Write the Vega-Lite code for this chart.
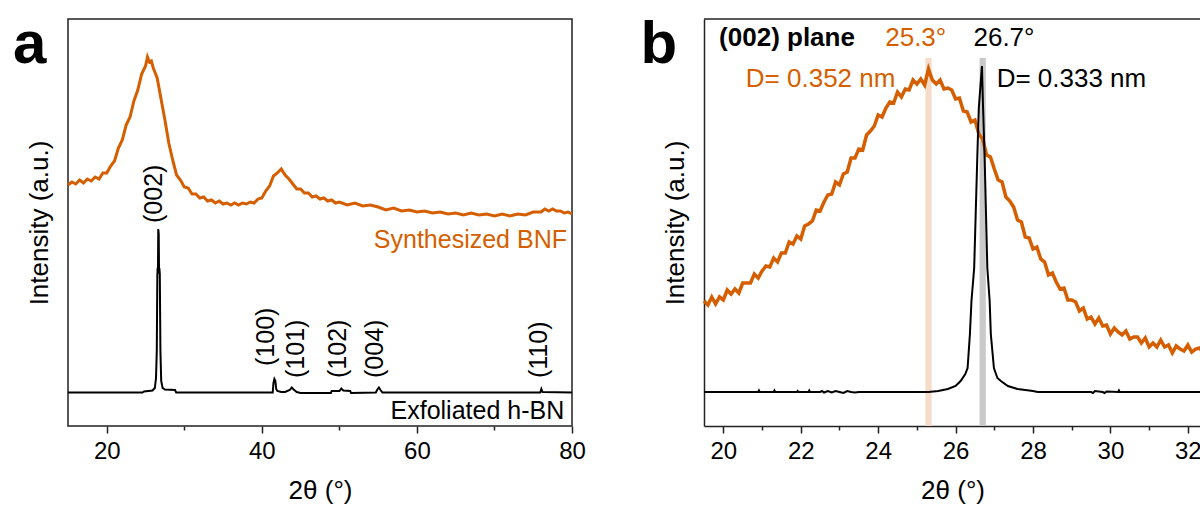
{
  "$schema": "https://vega.github.io/schema/vega-lite/v6.json",
  "padding": {"left": 12, "top": 14, "right": 0, "bottom": 0},
  "bounds": "flush",
  "spacing": 132,
  "data": {"values": [{}]},
  "config": {
    "font": "Liberation Sans",
    "view": {"stroke": null},
    "axis": {"labelFont": "Liberation Sans", "titleFont": "Liberation Sans", "labelColor": "#000", "titleColor": "#000", "labelFontSize": 24, "titleFontSize": 26, "titleFontWeight": "normal", "domainColor": "#222", "domainWidth": 1.5, "tickColor": "#222", "tickWidth": 1.5, "grid": false},
    "text": {"font": "Liberation Sans"}
  },
  "datasets": {
    "bnfA": [
      {"t":15,"i":241},{"t":15.5,"i":244},{"t":16,"i":242},{"t":16.5,"i":246},{"t":17,"i":243},{"t":17.5,"i":247},{"t":18,"i":245},{"t":18.5,"i":249},{"t":19,"i":247},{"t":19.5,"i":253},{"t":20,"i":253},{"t":20.5,"i":260},{"t":21,"i":265},{"t":21.5,"i":278},{"t":22,"i":286},{"t":22.5,"i":301},{"t":23,"i":309},{"t":23.5,"i":325},{"t":24,"i":336},{"t":24.5,"i":352},{"t":25,"i":360},{"t":25.25,"i":369},{"t":25.5,"i":364},{"t":25.75,"i":365},{"t":26,"i":358},{"t":26.5,"i":348},{"t":27,"i":327},{"t":27.5,"i":306},{"t":28,"i":283},{"t":28.5,"i":266},{"t":29,"i":251},{"t":29.5,"i":246},{"t":30,"i":239},{"t":30.5,"i":238},{"t":31,"i":232},{"t":31.5,"i":232},{"t":32,"i":228},{"t":32.5,"i":229},{"t":33,"i":225},{"t":33.5,"i":226},{"t":34,"i":223},{"t":34.5,"i":225},{"t":35,"i":222},{"t":35.5,"i":223},{"t":36,"i":221},{"t":36.5,"i":223},{"t":37,"i":221},{"t":37.5,"i":223},{"t":38,"i":222},{"t":38.5,"i":224},{"t":39,"i":223},{"t":39.5,"i":227},{"t":40,"i":228},{"t":40.5,"i":235},{"t":41,"i":240},{"t":41.5,"i":250},{"t":42,"i":253},{"t":42.5,"i":257},{"t":43,"i":251},{"t":43.5,"i":247},{"t":44,"i":242},{"t":44.5,"i":237},{"t":45,"i":237},{"t":45.5,"i":233},{"t":46,"i":233},{"t":46.5,"i":229},{"t":47,"i":230},{"t":47.5,"i":227},{"t":48,"i":228},{"t":48.5,"i":225},{"t":49,"i":226},{"t":49.5,"i":223},{"t":50,"i":224},{"t":51,"i":221},{"t":52,"i":223},{"t":53,"i":220},{"t":54,"i":221},{"t":55,"i":219},{"t":56,"i":216},{"t":57,"i":218},{"t":58,"i":215},{"t":59,"i":216},{"t":60,"i":214},{"t":61,"i":215},{"t":62,"i":213},{"t":63,"i":214},{"t":64,"i":212},{"t":65,"i":213},{"t":66,"i":211},{"t":67,"i":213},{"t":68,"i":211},{"t":69,"i":212},{"t":70,"i":210},{"t":71,"i":212},{"t":72,"i":210},{"t":73,"i":212},{"t":74,"i":211},{"t":75,"i":214},{"t":76,"i":214},{"t":76.5,"i":217},{"t":77,"i":215},{"t":77.5,"i":217},{"t":78,"i":215},{"t":78.5,"i":215},{"t":79,"i":213},{"t":79.5,"i":214},{"t":80,"i":212}
    ],
    "hbnA": [
      {"t":15,"i":33.5},{"t":24.6,"i":33.5},{"t":24.8,"i":34.5},{"t":25.9,"i":35.5},{"t":26.2,"i":38},{"t":26.35,"i":48},{"t":26.45,"i":75},{"t":26.52,"i":150},{"t":26.56,"i":158},{"t":26.6,"i":152},{"t":26.64,"i":197},{"t":26.7,"i":192},{"t":26.74,"i":155},{"t":26.78,"i":158},{"t":26.84,"i":152},{"t":26.92,"i":75},{"t":27.02,"i":45},{"t":27.2,"i":38},{"t":27.5,"i":36.5},{"t":28.8,"i":36},{"t":28.95,"i":33.5},{"t":41.4,"i":33.5},{"t":41.5,"i":43},{"t":41.62,"i":47},{"t":41.75,"i":45},{"t":41.85,"i":37},{"t":42,"i":35},{"t":42.5,"i":34},{"t":43,"i":34},{"t":43.6,"i":36},{"t":43.85,"i":38.5},{"t":44.1,"i":36.5},{"t":44.5,"i":34},{"t":45,"i":33},{"t":48.9,"i":33},{"t":49,"i":35},{"t":50,"i":35},{"t":50.25,"i":37.5},{"t":50.5,"i":35.5},{"t":51.4,"i":35},{"t":51.5,"i":33},{"t":54.7,"i":33.5},{"t":54.9,"i":36.5},{"t":55.1,"i":38.5},{"t":55.3,"i":36},{"t":55.55,"i":33.5},{"t":75.9,"i":33.5},{"t":76.05,"i":37},{"t":76.2,"i":34},{"t":80,"i":33.5}
    ],
    "bnfB": [
      {"t":19.5,"i":125},{"t":19.6,"i":121},{"t":19.7,"i":129},{"t":19.8,"i":122},{"t":19.9,"i":129},{"t":20,"i":126},{"t":20.1,"i":136},{"t":20.2,"i":132},{"t":20.3,"i":137},{"t":20.4,"i":133},{"t":20.5,"i":143},{"t":20.6,"i":143},{"t":20.7,"i":143},{"t":20.8,"i":152},{"t":20.9,"i":148},{"t":21,"i":155},{"t":21.1,"i":160},{"t":21.2,"i":159},{"t":21.3,"i":168},{"t":21.4,"i":164},{"t":21.5,"i":173},{"t":21.6,"i":173},{"t":21.7,"i":184},{"t":21.8,"i":182},{"t":21.9,"i":190},{"t":22,"i":187},{"t":22.1,"i":200},{"t":22.2,"i":202},{"t":22.3,"i":205},{"t":22.4,"i":216},{"t":22.5,"i":215},{"t":22.6,"i":224},{"t":22.7,"i":231},{"t":22.8,"i":232},{"t":22.9,"i":244},{"t":23,"i":241},{"t":23.1,"i":252},{"t":23.2,"i":254},{"t":23.3,"i":268},{"t":23.4,"i":268},{"t":23.5,"i":277},{"t":23.6,"i":276},{"t":23.7,"i":291},{"t":23.8,"i":295},{"t":23.9,"i":300},{"t":24,"i":311},{"t":24.1,"i":309},{"t":24.2,"i":318},{"t":24.3,"i":324},{"t":24.4,"i":323},{"t":24.5,"i":334},{"t":24.6,"i":329},{"t":24.7,"i":337},{"t":24.8,"i":336},{"t":24.9,"i":346},{"t":25,"i":342},{"t":25.1,"i":347},{"t":25.2,"i":341},{"t":25.3,"i":357},{"t":25.4,"i":346},{"t":25.5,"i":342},{"t":25.6,"i":346},{"t":25.7,"i":337},{"t":25.8,"i":338},{"t":25.9,"i":336},{"t":26,"i":327},{"t":26.1,"i":328},{"t":26.2,"i":315},{"t":26.3,"i":314},{"t":26.4,"i":304},{"t":26.5,"i":306},{"t":26.6,"i":292},{"t":26.7,"i":287},{"t":26.8,"i":271},{"t":26.9,"i":269},{"t":27,"i":257},{"t":27.1,"i":246},{"t":27.2,"i":244},{"t":27.3,"i":229},{"t":27.4,"i":225},{"t":27.5,"i":219},{"t":27.6,"i":206},{"t":27.7,"i":204},{"t":27.8,"i":189},{"t":27.9,"i":188},{"t":28,"i":177},{"t":28.1,"i":179},{"t":28.2,"i":167},{"t":28.3,"i":164},{"t":28.4,"i":151},{"t":28.5,"i":153},{"t":28.6,"i":144},{"t":28.7,"i":137},{"t":28.8,"i":138},{"t":28.9,"i":126},{"t":29,"i":126},{"t":29.1,"i":124},{"t":29.2,"i":115},{"t":29.3,"i":118},{"t":29.4,"i":107},{"t":29.5,"i":109},{"t":29.6,"i":102},{"t":29.7,"i":108},{"t":29.8,"i":100},{"t":29.9,"i":101},{"t":30,"i":92},{"t":30.1,"i":98},{"t":30.2,"i":94},{"t":30.3,"i":91},{"t":30.4,"i":95},{"t":30.5,"i":87},{"t":30.6,"i":89},{"t":30.7,"i":89},{"t":30.8,"i":83},{"t":30.9,"i":88},{"t":31,"i":79},{"t":31.1,"i":83},{"t":31.2,"i":79},{"t":31.3,"i":86},{"t":31.4,"i":79},{"t":31.5,"i":81},{"t":31.6,"i":73},{"t":31.7,"i":80},{"t":31.8,"i":77},{"t":31.9,"i":75},{"t":32,"i":81},{"t":32.1,"i":74},{"t":32.2,"i":77},{"t":32.3,"i":78},{"t":32.34,"i":76}
    ],
    "hbnB": [
      {"t":19.5,"i":34},{"t":20.9,"i":34},{"t":20.92,"i":35.5},{"t":20.94,"i":34},{"t":21.3,"i":34},{"t":21.32,"i":35.5},{"t":21.34,"i":34},{"t":21.9,"i":34},{"t":21.92,"i":35},{"t":21.94,"i":34},{"t":22.2,"i":34},{"t":22.22,"i":35.5},{"t":22.24,"i":34},{"t":22.5,"i":34},{"t":22.55,"i":35},{"t":22.6,"i":33.5},{"t":22.7,"i":35},{"t":22.8,"i":33.5},{"t":22.9,"i":35},{"t":23,"i":34},{"t":23.1,"i":33},{"t":23.2,"i":35},{"t":23.3,"i":34},{"t":23.4,"i":33.5},{"t":23.5,"i":34},{"t":25.3,"i":34},{"t":25.55,"i":35},{"t":25.8,"i":37},{"t":26,"i":40},{"t":26.13,"i":45},{"t":26.25,"i":52},{"t":26.31,"i":58},{"t":26.37,"i":92},{"t":26.41,"i":125},{"t":26.48,"i":158},{"t":26.56,"i":268},{"t":26.6,"i":318},{"t":26.68,"i":360},{"t":26.71,"i":318},{"t":26.75,"i":268},{"t":26.82,"i":158},{"t":26.88,"i":125},{"t":26.91,"i":92},{"t":26.99,"i":58},{"t":27.08,"i":48},{"t":27.17,"i":45},{"t":27.35,"i":40},{"t":27.6,"i":37},{"t":28,"i":35},{"t":28.12,"i":34},{"t":29.5,"i":34},{"t":29.55,"i":33},{"t":29.6,"i":35},{"t":29.8,"i":34},{"t":29.85,"i":33},{"t":29.9,"i":34.5},{"t":30.2,"i":34},{"t":30.22,"i":35.5},{"t":30.24,"i":34},{"t":32.34,"i":34}
    ],
    "peaks": [
      {"t":26.1,"i":203,"label":"(002)"},
      {"t":40.54,"i":60,"label":"(100)"},
      {"t":44.4,"i":48,"label":"(101)"},
      {"t":49.8,"i":48,"label":"(102)"},
      {"t":54.6,"i":48,"label":"(004)"},
      {"t":75.8,"i":48,"label":"(110)"}
    ]
  },
  "hconcat": [
    {
      "width": 504,
      "height": 407,
      "view": {"stroke": "#222", "strokeWidth": 1.5},
      "layer": [
        {
          "data": {"name": "bnfA"},
          "mark": {"type": "line", "color": "#d55f00", "strokeWidth": 3},
          "encoding": {
            "x": {"field": "t", "type": "quantitative", "scale": {"domain": [15, 80], "nice": false, "zero": false},
              "axis": {"title": "2θ (°)", "values": [20, 30, 40, 50, 60, 70, 80], "labelExpr": "datum.value % 20 === 0 ? datum.label : ''", "tickSize": {"condition": {"test": "datum.value % 20 === 0", "value": 7}, "value": 4}, "domain": false, "labelPadding": 6, "titlePadding": 14, "labelFlush": false}},
            "y": {"field": "i", "type": "quantitative", "scale": {"domain": [0, 407], "nice": false, "zero": false},
              "axis": {"title": "Intensity (a.u.)", "ticks": false, "labels": false, "domain": false, "titlePadding": 16}}
          }
        },
        {
          "data": {"name": "hbnA"},
          "mark": {"type": "line", "color": "#000", "strokeWidth": 2},
          "encoding": {
            "x": {"field": "t", "type": "quantitative"},
            "y": {"field": "i", "type": "quantitative"}
          }
        },
        {
          "data": {"name": "peaks"},
          "mark": {"type": "text", "angle": 270, "align": "left", "baseline": "middle", "fontSize": 25, "color": "#000"},
          "encoding": {
            "x": {"field": "t", "type": "quantitative"},
            "y": {"field": "i", "type": "quantitative"},
            "text": {"field": "label"}
          }
        },
        {
          "mark": {"type": "text", "text": "Synthesized BNF", "align": "right", "baseline": "alphabetic", "fontSize": 25, "color": "#d55f00"},
          "encoding": {"x": {"datum": 79.35, "type": "quantitative"}, "y": {"datum": 178, "type": "quantitative"}}
        },
        {
          "mark": {"type": "text", "text": "Exfoliated h-BN", "align": "right", "baseline": "alphabetic", "fontSize": 25, "color": "#000"},
          "encoding": {"x": {"datum": 79.0, "type": "quantitative"}, "y": {"datum": 7, "type": "quantitative"}}
        },
        {
          "mark": {"type": "text", "text": "a", "align": "left", "baseline": "alphabetic", "fontSize": 60, "fontWeight": "bold", "color": "#000"},
          "encoding": {"x": {"datum": 7.9, "type": "quantitative"}, "y": {"datum": 363, "type": "quantitative"}}
        }
      ]
    },
    {
      "width": 497,
      "height": 407,
      "layer": [
        {
          "mark": {"type": "rect", "color": "#f6dcc8"},
          "encoding": {"x": {"datum": 25.22, "type": "quantitative", "scale": {"domain": [19.5, 32.34], "nice": false, "zero": false},
              "axis": {"title": "2θ (°)", "values": [20, 21, 22, 23, 24, 25, 26, 27, 28, 29, 30, 31, 32], "labelExpr": "datum.value % 2 === 0 ? datum.label : ''", "tickSize": {"condition": {"test": "datum.value % 2 === 0", "value": 7}, "value": 4}, "domain": true, "labelPadding": 6, "titlePadding": 14, "labelFlush": false}},
            "x2": {"datum": 25.38}, "y": {"datum": 0, "type": "quantitative", "scale": {"domain": [0, 407], "nice": false, "zero": false},
              "axis": {"title": "Intensity (a.u.)", "ticks": false, "labels": false, "domain": true, "titlePadding": 16}}, "y2": {"datum": 368}}
        },
        {
          "mark": {"type": "rect", "color": "#c9c9c9"},
          "encoding": {"x": {"datum": 26.62, "type": "quantitative"}, "x2": {"datum": 26.78}, "y": {"datum": 0, "type": "quantitative"}, "y2": {"datum": 368}}
        },
        {
          "mark": {"type": "rule", "color": "#222", "strokeWidth": 1.5},
          "encoding": {"y": {"datum": 407, "type": "quantitative"}}
        },
        {
          "data": {"name": "bnfB"},
          "mark": {"type": "line", "color": "#d55f00", "strokeWidth": 3.5},
          "encoding": {
            "x": {"field": "t", "type": "quantitative"},
            "y": {"field": "i", "type": "quantitative"}
          }
        },
        {
          "data": {"name": "hbnB"},
          "mark": {"type": "line", "color": "#000", "strokeWidth": 2},
          "encoding": {
            "x": {"field": "t", "type": "quantitative"},
            "y": {"field": "i", "type": "quantitative"}
          }
        },
        {
          "mark": {"type": "text", "text": "(002) plane", "align": "left", "baseline": "alphabetic", "fontSize": 26, "fontWeight": "bold", "color": "#000"},
          "encoding": {"x": {"datum": 19.89, "type": "quantitative"}, "y": {"datum": 380, "type": "quantitative"}}
        },
        {
          "mark": {"type": "text", "text": "25.3°", "align": "center", "baseline": "alphabetic", "fontSize": 26, "color": "#d55f00"},
          "encoding": {"x": {"datum": 24.97, "type": "quantitative"}, "y": {"datum": 380, "type": "quantitative"}}
        },
        {
          "mark": {"type": "text", "text": "26.7°", "align": "center", "baseline": "alphabetic", "fontSize": 26, "color": "#000"},
          "encoding": {"x": {"datum": 27.25, "type": "quantitative"}, "y": {"datum": 380, "type": "quantitative"}}
        },
        {
          "mark": {"type": "text", "text": "D= 0.352 nm", "align": "left", "baseline": "alphabetic", "fontSize": 26, "color": "#d55f00"},
          "encoding": {"x": {"datum": 20.58, "type": "quantitative"}, "y": {"datum": 339, "type": "quantitative"}}
        },
        {
          "mark": {"type": "text", "text": "D= 0.333 nm", "align": "left", "baseline": "alphabetic", "fontSize": 26, "color": "#000"},
          "encoding": {"x": {"datum": 27.06, "type": "quantitative"}, "y": {"datum": 339, "type": "quantitative"}}
        },
        {
          "mark": {"type": "text", "text": "b", "align": "left", "baseline": "alphabetic", "fontSize": 60, "fontWeight": "bold", "color": "#000"},
          "encoding": {"x": {"datum": 17.86, "type": "quantitative"}, "y": {"datum": 363, "type": "quantitative"}}
        }
      ]
    }
  ]
}
